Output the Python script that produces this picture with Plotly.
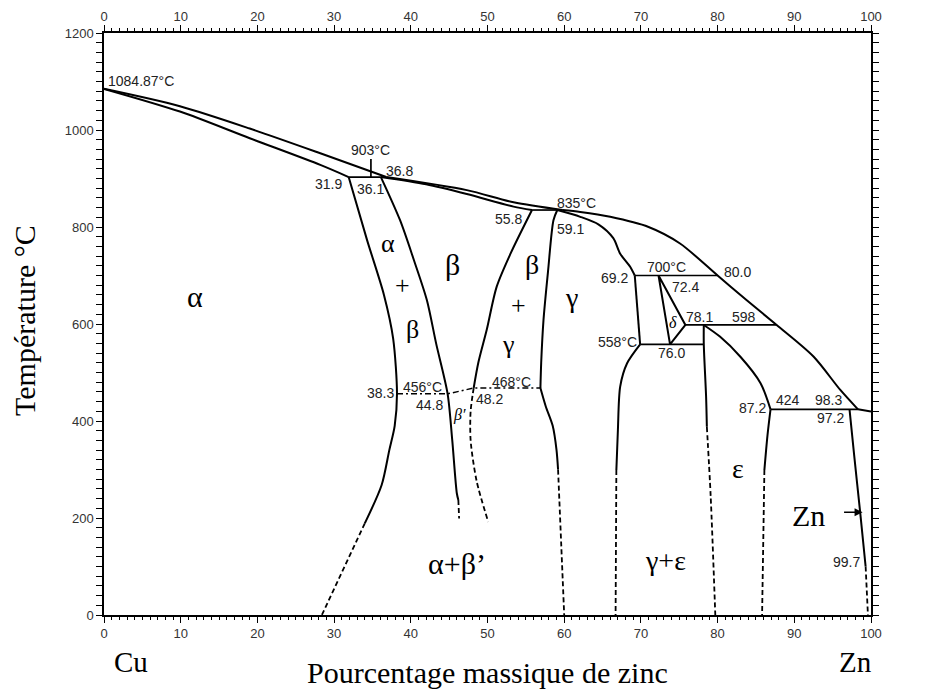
import plotly.graph_objects as go

# phase boundaries of the Cu-Zn diagram: composition (wt% Zn) and temperature (°C)
liquidus_cu_x = [0, 9.9, 19, 28.2, 36.8]
liquidus_cu_t = [1084.87, 1049, 1003, 952, 903]
liquidus_beta_x = [36.8, 47.3, 53.4, 59.8]
liquidus_beta_t = [903, 876, 851, 835]
liquidus_zn_x = [59.8, 62.1, 66, 71, 75.1, 80.0, 83.8, 87.7, 92.5, 96, 98.3]
liquidus_zn_t = [835, 831, 821, 800, 766, 700, 649, 598, 533, 464, 424]
liquidus_end_x = [98.3, 100]
liquidus_end_t = [424, 419.58]

alpha_solidus_x = [0, 9.9, 19, 28.2, 31.9]
alpha_solidus_t = [1084.87, 1038, 983, 928, 903]

beta_solidus_x = [36.1, 42, 47.3, 53.4, 55.8]
beta_solidus_t = [903, 888, 868, 842, 835]

alpha_solvus_x = [31.9, 34.3, 36.5, 37.7, 38.2, 37.9, 37.2, 36.2, 34.0]
alpha_solvus_t = [903, 773, 660, 570, 456, 390, 340, 268, 189]
alpha_solvus_low_x = [34.0, 28.4]
alpha_solvus_low_t = [189, 0]

beta_left_x = [36.1, 38.6, 40.4, 42.1, 43.3, 44.8, 45.4, 46.0, 46.2]
beta_left_t = [903, 814, 732, 649, 560, 456, 361, 251, 237]
beta_left_low_x = [46.2, 46.3]
beta_left_low_t = [237, 199]

beta_right_x = [55.8, 53.0, 51.2, 49.9, 48.8, 48.2]
beta_right_t = [835, 745, 677, 588, 520, 468]

beta_prime_x = [48.2, 47.8, 47.8, 48.6, 50.1]
beta_prime_t = [468, 420, 360, 275, 192]

order_x = [38.2, 44.8, 48.2, 56.9]
order_t = [456, 456, 468, 468]

gamma_left_x = [59.1, 58.6, 57.9, 57.3, 57.0, 56.9]
gamma_left_t = [835, 814, 710, 608, 520, 468]
gamma_left_bend_x = [56.9, 57.6, 58.5, 59.0, 59.2]
gamma_left_bend_t = [468, 430, 390, 340, 300]
gamma_left_low_x = [59.2, 59.6, 60.0]
gamma_left_low_t = [300, 150, 0]

gamma_liq_x = [59.1, 62.1, 64.5, 66.4, 67.3, 68.6, 69.2]
gamma_liq_t = [835, 821, 805, 777, 745, 718, 700]

gamma_right_x = [69.2, 69.9]
gamma_right_t = [700, 558]
gamma_right_bend_x = [69.9, 68.2, 67.3, 67.0, 66.8]
gamma_right_bend_t = [558, 519, 471, 381, 299]
gamma_right_low_x = [66.8, 66.7]
gamma_right_low_t = [299, 0]

delta_x = [72.3, 73.8, 75.8, 72.3]
delta_t = [700, 558, 598, 700]

eps_left_x = [78.2, 78.2, 78.5, 78.6]
eps_left_t = [598, 558, 450, 388]
eps_left_low_x = [78.6, 79.1, 79.7]
eps_left_low_t = [388, 244, 0]

eps_right_x = [78.2, 80.3, 83.0, 85.6, 86.9]
eps_right_t = [598, 574, 532, 478, 424]
eps_right_bend_x = [86.9, 86.5, 86.1]
eps_right_bend_t = [424, 370, 299]
eps_right_low_x = [86.1, 85.8]
eps_right_low_t = [299, 0]

zn_solvus_x = [97.2, 97.8, 98.6, 99.3]
zn_solvus_t = [424, 330, 210, 100]
zn_solvus_low_x = [99.3, 99.6]
zn_solvus_low_t = [100, 0]

# invariant horizontals
iso_903_x, iso_903_t = [31.9, 36.8], [903, 903]
mark_903_x, mark_903_t = [34.8, 34.8], [903, 940]
iso_835_x, iso_835_t = [55.8, 59.8], [835, 835]
iso_700_x, iso_700_t = [69.2, 80.0], [700, 700]
iso_598_x, iso_598_t = [75.8, 87.7], [598, 598]
iso_558_x, iso_558_t = [69.9, 78.2], [558, 558]
iso_424_x, iso_424_t = [86.9, 98.3], [424, 424]

curved = [
    (liquidus_cu_x, liquidus_cu_t), (liquidus_beta_x, liquidus_beta_t),
    (liquidus_zn_x, liquidus_zn_t), (alpha_solidus_x, alpha_solidus_t),
    (beta_solidus_x, beta_solidus_t), (alpha_solvus_x, alpha_solvus_t),
    (beta_left_x, beta_left_t), (beta_right_x, beta_right_t),
    (gamma_left_x, gamma_left_t), (gamma_left_bend_x, gamma_left_bend_t),
    (gamma_liq_x, gamma_liq_t), (gamma_right_bend_x, gamma_right_bend_t),
    (eps_right_x, eps_right_t), (eps_right_bend_x, eps_right_bend_t),
    (zn_solvus_x, zn_solvus_t), (eps_left_x, eps_left_t),
]
straight = [
    (liquidus_end_x, liquidus_end_t), (gamma_right_x, gamma_right_t),
    (delta_x, delta_t),
]
isotherms = [
    (iso_903_x, iso_903_t), (mark_903_x, mark_903_t), (iso_835_x, iso_835_t),
    (iso_598_x, iso_598_t), (iso_558_x, iso_558_t), (iso_424_x, iso_424_t),
]
dashed = [
    (alpha_solvus_low_x, alpha_solvus_low_t), (beta_left_low_x, beta_left_low_t),
    (beta_prime_x, beta_prime_t), (gamma_left_low_x, gamma_left_low_t),
    (gamma_right_low_x, gamma_right_low_t), (eps_left_low_x, eps_left_low_t),
    (eps_right_low_x, eps_right_low_t), (zn_solvus_low_x, zn_solvus_low_t),
]

# small numeric labels (text, x, T, anchor)
num_labels = [
    ('1084.87°C', 0.3, 1101, 'left'), ('903°C', 34.7, 959, 'center'),
    ('36.8', 38.5, 915, 'center'), ('31.9', 29.3, 889, 'center'),
    ('36.1', 34.8, 878, 'center'), ('55.8', 52.8, 816, 'center'),
    ('835°C', 61.6, 849, 'center'), ('59.1', 60.8, 796, 'center'),
    ('69.2', 66.6, 695, 'center'), ('700°C', 73.4, 718, 'center'),
    ('80.0', 82.6, 707, 'center'), ('72.4', 75.8, 676, 'center'),
    ('78.1', 77.6, 614, 'center'), ('598', 83.5, 614, 'center'),
    ('558°C', 66.9, 563, 'center'), ('76.0', 74.0, 540, 'center'),
    ('87.2', 84.5, 427, 'center'), ('424', 89.2, 443, 'center'),
    ('98.3', 94.4, 443, 'center'), ('97.2', 94.7, 406, 'center'),
    ('419.58°C', 100.8, 423, 'left'), ('99.7', 96.8, 109, 'center'),
    ('38.3', 36.1, 458, 'center'), ('456°C', 41.5, 470, 'center'),
    ('44.8', 42.5, 433, 'center'), ('468°C', 53.1, 480, 'center'),
    ('48.2', 50.3, 445, 'center'),
]

# phase labels (text, x, T, size, italic)
phase_labels = [
    ('α', 11.9, 656, 30, False), ('α', 37.0, 767, 26, False),
    ('+', 38.9, 680, 26, False), ('β', 40.2, 588, 26, False),
    ('β', 45.5, 722, 30, False), ('β', 55.8, 722, 28, False),
    ('+', 54.0, 639, 26, False), ('γ', 52.7, 557, 26, False),
    ('γ', 60.9, 654, 28, False), ('δ', 74.2, 604, 16, True),
    ('ε', 82.7, 303, 28, False), ('Zn', 91.8, 206, 30, False),
    ('α+β’', 46.0, 107, 30, False), ('γ+ε', 73.2, 113, 28, False),
    ('β′', 46.4, 412, 16, True),
]

fig = go.Figure()


def add_line(x, t, width=2, dash='solid', shape='linear', xaxis='x'):
    fig.add_trace(go.Scatter(
        x=x, y=t, mode='lines', xaxis=xaxis,
        line=dict(color='black', width=width, dash=dash, shape=shape, smoothing=0.8),
        hoverinfo='skip', showlegend=False))


for x, t in curved:
    add_line(x, t, width=2, shape='spline')
for x, t in straight:
    add_line(x, t, width=2)
for x, t in isotherms:
    add_line(x, t, width=1.7)
for x, t in dashed:
    add_line(x, t, width=1.8, dash='5px,3px', shape='spline')
add_line(order_x, order_t, width=1.5, dash='6px,3px,2px,3px')
# drawn on the top axis so that it is rendered
add_line(iso_700_x, iso_700_t, width=1.7, xaxis='x2')

annotations = []
for text, x, t, anchor in num_labels:
    annotations.append(dict(
        text=text, x=x, y=t, xref='x', yref='y', showarrow=False,
        xanchor=anchor, font=dict(family='Liberation Sans', size=14, color='#222')))
for text, x, t, size, italic in phase_labels:
    if italic:
        text = '<i>' + text + '</i>'
    annotations.append(dict(
        text=text, x=x, y=t, xref='x', yref='y', showarrow=False,
        font=dict(family='Liberation Serif', size=size, color='black')))

annotations += [
    dict(text='', x=98.9, y=212, xref='x', yref='y', ax=-20, ay=0,
         showarrow=True, arrowhead=2, arrowsize=1, arrowwidth=1.6, arrowcolor='black'),
    dict(text='Cu', x=0.010, y=-0.081, xref='paper', yref='paper', showarrow=False,
         yanchor='middle', font=dict(family='Liberation Serif', size=29, color='black')),
    dict(text='Zn', x=1.004, y=-0.081, xref='paper', yref='paper', showarrow=False,
         yanchor='middle', font=dict(family='Liberation Serif', size=29, color='black')),
    dict(text='Pourcentage massique de zinc', x=0.5, y=-0.099, xref='paper', yref='paper',
         showarrow=False, yanchor='middle',
         font=dict(family='Liberation Serif', size=30, color='black')),
    dict(text='Température °C', x=-0.103, y=0.507, xref='paper', yref='paper',
         showarrow=False, textangle=-90, xanchor='center', yanchor='middle',
         font=dict(family='Liberation Serif', size=30, color='black')),
]

tick_font = dict(family='Liberation Sans', size=13, color='#333')

# the page body adds an 8 px offset, so margins are shifted back by that much
layout = go.Layout(
    width=943, height=690,
    margin=dict(l=96, r=80, t=25, b=83),
    paper_bgcolor='white', plot_bgcolor='white',
    showlegend=False,
    xaxis=dict(
        range=[0, 100], tick0=0, dtick=10, showgrid=False, zeroline=False,
        showline=True, linecolor='black', linewidth=1.5, mirror='allticks',
        ticks='outside', ticklen=6, tickcolor='black', tickwidth=1.2,
        minor=dict(dtick=1, ticks='outside', ticklen=3, tickcolor='black'),
        tickfont=tick_font, automargin=False,
        ),
    xaxis2=dict(
        range=[0, 100], tick0=0, dtick=10, overlaying='x', side='top',
        showgrid=False, zeroline=False, showline=False, ticks='',
        tickfont=tick_font, ticklabelstandoff=8, automargin=False,
        ),
    yaxis=dict(
        range=[0, 1200], tick0=0, dtick=200, showgrid=False, zeroline=False,
        showline=True, linecolor='black', linewidth=1.5, mirror='allticks',
        ticks='outside', ticklen=6, tickcolor='black', tickwidth=1.2,
        minor=dict(dtick=20, ticks='outside', ticklen=3, tickcolor='black'),
        tickfont=tick_font, automargin=False,
        ),
    annotations=annotations,
    )
fig.update_layout(layout)

fig.write_html('out.html')
